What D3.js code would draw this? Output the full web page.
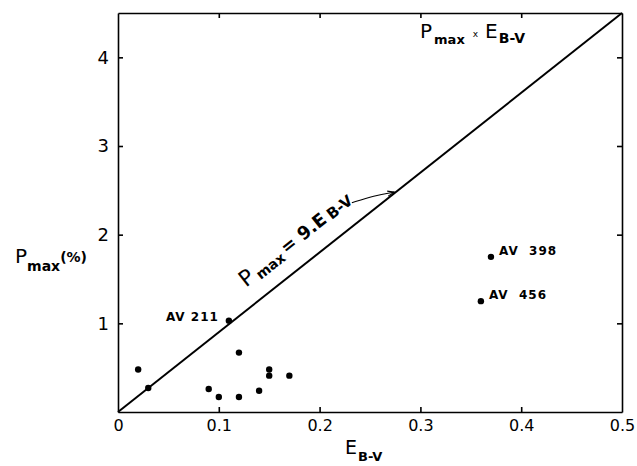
<!DOCTYPE html>
<html>
<head>
<style>
  body { margin: 0; background: #fff; }
  svg text { font-family: "DejaVu Sans", sans-serif; fill: #000; }
  .axis .tick text { font-size: 16px; }
  .axis path, .axis line { stroke: #000; stroke-width: 1.6px; }
  .star { font-size: 12px; font-weight: bold; letter-spacing: 1px; }
</style>
<script src="https://cdnjs.cloudflare.com/ajax/libs/d3/7.8.5/d3.min.js"></script>
</head>
<body>
<svg width="637" height="466"></svg>
<script>
// E(B-V) and Pmax(%) per star
var eBV  = [0.02, 0.03, 0.11, 0.12, 0.09, 0.10, 0.12, 0.14, 0.15, 0.15, 0.17, 0.37, 0.36];
var pMax = [0.48, 0.27, 1.03, 0.67, 0.26, 0.17, 0.17, 0.24, 0.48, 0.41, 0.41, 1.75, 1.25];
var starNames = ["", "", "AV 211", "", "", "", "", "", "", "", "", "AV  398", "AV  456"];

var xTicks = [0, 0.1, 0.2, 0.3, 0.4, 0.5];
var xTickLabels = ["0", "0.1", "0.2", "0.3", "0.4", "0.5"];
var yTicks = [1, 2, 3, 4];
var yTickLabels = ["1", "2", "3", "4"];

// Pmax = 9 E(B-V)
var fitSlope = 9;
var fitRange = [0, 0.5];

var svg = d3.select("svg");
var x = d3.scaleLinear().domain([0, 0.5]).range([118, 622]);
var y = d3.scaleLinear().domain([0, 4.5]).range([412, 13]);

var bottom = svg.append("g").attr("class", "axis")
  .attr("transform", "translate(0," + y(0) + ")")
  .call(d3.axisBottom(x).tickValues(xTicks).tickSizeInner(-5).tickSizeOuter(0).tickPadding(8)
    .tickFormat(function (d, i) { return xTickLabels[i]; }));
bottom.selectAll(".tick").filter(function (d) { return d == 0 || d == 0.5; }).select("line").remove();

svg.append("g").attr("class", "axis")
  .attr("transform", "translate(0," + y(4.5) + ")")
  .call(d3.axisTop(x).tickValues(xTicks.slice(1, 5)).tickSizeInner(-5).tickSizeOuter(0).tickFormat(""));

var left = svg.append("g").attr("class", "axis")
  .attr("transform", "translate(" + x(0) + ",0)")
  .call(d3.axisLeft(y).tickValues(yTicks).tickSizeInner(-5).tickSizeOuter(0).tickPadding(9)
    .tickFormat(function (d, i) { return yTickLabels[i]; }));
left.selectAll(".tick text").style("font-size", "18px");

svg.append("g").attr("class", "axis")
  .attr("transform", "translate(" + x(0.5) + ",0)")
  .call(d3.axisRight(y).tickValues(yTicks).tickSizeInner(-5).tickSizeOuter(0).tickFormat(""));

// fit line
svg.append("path")
  .datum(fitRange)
  .attr("d", d3.line().x(function (d) { return x(d); }).y(function (d) { return y(fitSlope * d); }))
  .attr("stroke", "#000").attr("stroke-width", 2).attr("fill", "none");

// points
svg.selectAll(".dot")
  .data(eBV)
  .enter().append("circle")
  .attr("class", "dot")
  .attr("cx", function (d) { return x(d); })
  .attr("cy", function (d, i) { return y(pMax[i]); })
  .attr("r", 3.2)
  .attr("fill", "#000");

// star names
svg.selectAll(".star")
  .data(starNames)
  .enter().append("text")
  .attr("class", "star")
  .attr("x", function (d, i) { return d == "AV 211" ? x(eBV[i]) - 10 : x(eBV[i]) + 8; })
  .attr("y", function (d, i) { return y(pMax[i]) + (d == "AV 211" ? 0 : -2); })
  .attr("text-anchor", function (d) { return d == "AV 211" ? "end" : "start"; })
  .style("white-space", "pre")
  .text(function (d) { return d; });

// label along the fit line
var angle = Math.atan2(y(0) - y(4.5), x(0.5) - x(0)) * 180 / Math.PI;
var lbl = svg.append("text")
  .attr("transform", "translate(" + x(0.127) + "," + y(1.40) + ") rotate(" + (-angle) + ")");
lbl.append("tspan").style("font-size", "22px").text("P");
lbl.append("tspan").attr("dy", 3).attr("dx", 3).style("font-size", "14px").style("font-weight", "bold").text("max");
lbl.append("tspan").attr("dy", -4).attr("dx", 3).style("font-size", "18px").style("font-weight", "bold").text("= 9.E");
lbl.append("tspan").attr("dy", 1).attr("dx", 4).style("font-size", "15px").style("font-weight", "bold").text("B-V");

// leader to the line
var leader = [[0.232, 2.36], [0.254, 2.44], [0.274, 2.48]];
svg.append("path")
  .datum(leader)
  .attr("d", d3.line().x(function (d) { return x(d[0]); }).y(function (d) { return y(d[1]); }).curve(d3.curveBasis))
  .attr("stroke", "#000").attr("stroke-width", 1.1).attr("fill", "none");
svg.append("path")
  .attr("d", "M" + (x(0.274) - 7) + "," + (y(2.48) - 1) + "L" + x(0.274) + "," + y(2.48) + "L" + (x(0.274) - 6) + "," + (y(2.48) + 4))
  .attr("stroke", "#000").attr("stroke-width", 1.1).attr("fill", "none");

// title
var title = svg.append("text").attr("x", 420).attr("y", 38);
title.append("tspan").style("font-size", "20px").text("P");
title.append("tspan").attr("dy", 6).attr("dx", 2).style("font-size", "13px").style("font-weight", "bold").text("max");
title.append("tspan").attr("dy", -7).attr("dx", 8).style("font-size", "9px").text("x");
title.append("tspan").attr("dy", 1).attr("dx", 7).style("font-size", "20px").text("E");
title.append("tspan").attr("dy", 5).attr("dx", 1).style("font-size", "14px").style("font-weight", "bold").text("B-V");

// axis titles
var xt = svg.append("text").attr("x", 345).attr("y", 454);
xt.append("tspan").style("font-size", "19px").text("E");
xt.append("tspan").attr("dy", 7).attr("dx", 1).style("font-size", "13px").style("font-weight", "bold").text("B-V");

var yt = svg.append("text").attr("x", 15).attr("y", 263);
yt.append("tspan").style("font-size", "20px").text("P");
yt.append("tspan").attr("dy", 8).style("font-size", "14px").style("font-weight", "bold").text("max");
yt.append("tspan").attr("dy", -9).style("font-size", "14px").style("font-weight", "bold").text("(%)");
</script>
</body>
</html>
